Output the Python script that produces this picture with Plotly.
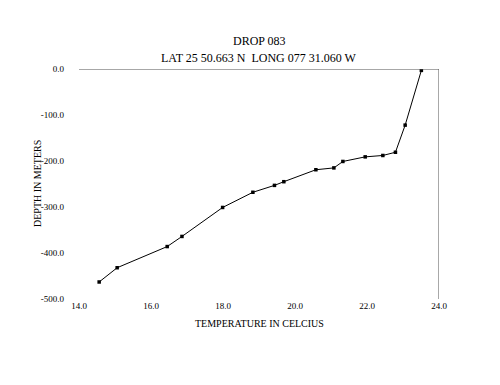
import plotly.graph_objects as go

# Data
temperature = [23.51, 23.06, 22.79, 22.44, 21.95, 21.33, 21.08, 20.58,
               19.69, 19.43, 18.83, 17.99, 16.86, 16.45, 15.06, 14.56]
depth = [-3, -122, -181, -188, -191, -201, -215, -219,
         -245, -253, -268, -301, -364, -386, -432, -463]

x_tick_vals = [14, 16, 18, 20, 22, 24]
x_tick_text = ["14.0", "16.0", "18.0", "20.0", "22.0", "24.0"]
y_tick_vals = [0, -100, -200, -300, -400, -500]
y_tick_text = ["0.0", "-100.0", "-200.0", "-300.0", "-400.0", "-500.0"]

title_line1 = "DROP 083"
title_line2 = "LAT 25 50.663 N  LONG 077 31.060 W"
x_title = "TEMPERATURE IN CELCIUS"
y_title = "DEPTH IN METERS"

FONT = "Liberation Serif, Times New Roman, serif"

fig = go.Figure()
fig.add_trace(go.Scatter(
    x=temperature, y=depth, mode="lines+markers",
    line=dict(color="black", width=1),
    marker=dict(symbol="square", size=3.5, color="black"),
    showlegend=False, hoverinfo="skip",
))

fig.update_layout(
    width=500, height=385,
    margin=dict(l=79, r=61, t=69, b=86),
    paper_bgcolor="white", plot_bgcolor="white",
    font=dict(family=FONT, color="black", size=9),
    xaxis=dict(range=[14, 24], tickvals=x_tick_vals, ticktext=x_tick_text,
               showgrid=False, zeroline=False, showline=False, ticks="",
               tickfont=dict(family=FONT, size=9, color="black")),
    yaxis=dict(range=[-500, 0], tickvals=y_tick_vals, ticktext=y_tick_text,
               showgrid=False, zeroline=False, showline=False, ticks="",
               ticklabelstandoff=14,
               tickfont=dict(family=FONT, size=9, color="black")),
    shapes=[
        dict(type="line", xref="x", yref="y", x0=14, x1=24, y0=0, y1=0,
             line=dict(color="#505050", width=1)),
        dict(type="line", xref="x", yref="y", x0=24, x1=24, y0=0, y1=-500,
             line=dict(color="#505050", width=1)),
    ],
    annotations=[
        dict(text=title_line1, xref="paper", yref="paper", x=0.5, y=1,
             yshift=28, showarrow=False, xanchor="center", yanchor="middle",
             font=dict(family=FONT, size=12, color="black")),
        dict(text=title_line2, xref="paper", yref="paper", x=0.5, y=1,
             yshift=11, showarrow=False, xanchor="center", yanchor="middle",
             font=dict(family=FONT, size=12, color="black")),
        dict(text=x_title, xref="paper", yref="paper", x=0.5, y=0,
             yshift=-24, showarrow=False, xanchor="center", yanchor="middle",
             font=dict(family=FONT, size=10, color="black")),
        dict(text=y_title, xref="paper", yref="paper", x=0, y=0.5,
             xshift=-42, showarrow=False, xanchor="center", yanchor="middle",
             textangle=-90,
             font=dict(family=FONT, size=10, color="black")),
    ],
)

fig.write_html("out.html", config={"displayModeBar": False},
               post_script="document.body.style.margin='0';")
